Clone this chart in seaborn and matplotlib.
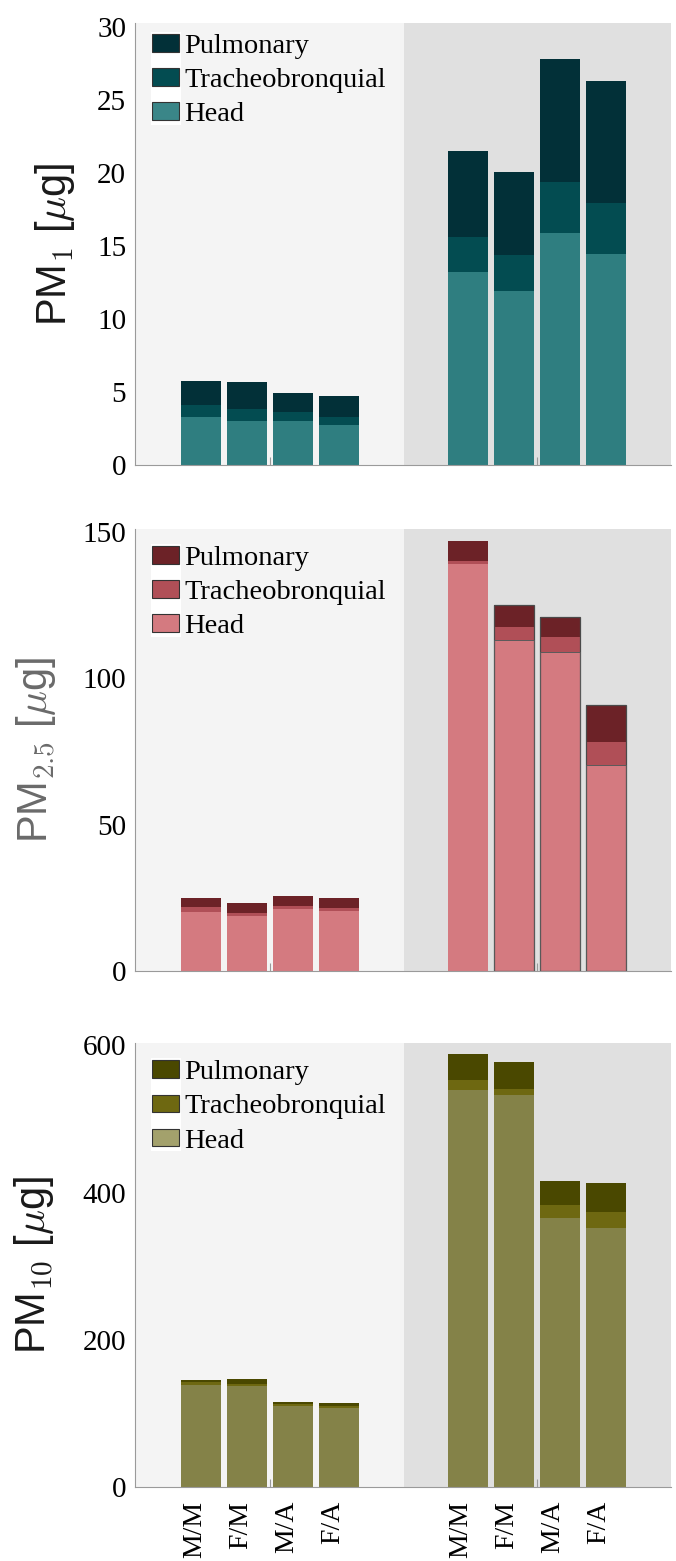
import numpy as np
import pandas as pd
import matplotlib
matplotlib.use("Agg")
import matplotlib.pyplot as plt
import matplotlib.transforms as mtransforms
from matplotlib.patches import Patch, Rectangle
import seaborn as sns

# ---------------- data ----------------
profiles = ["M/M", "F/M", "M/A", "F/A"]
groups = ["G1", "G2"]
layers = ["Pulmonary", "Tracheobronquial", "Head"]

pm1_head = [3.30, 3.03, 3.03, 2.75, 13.20, 11.95, 15.90, 14.45]
pm1_tb = [0.80, 0.82, 0.57, 0.55, 2.45, 2.45, 3.50, 3.50]
pm1_pulm = [1.65, 1.85, 1.35, 1.45, 5.85, 5.65, 8.40, 8.35]

pm25_head = [20.0, 18.9, 21.2, 20.4, 139.1, 113.1, 109.1, 70.2]
pm25_tb = [1.8, 0.9, 1.1, 1.1, 0.9, 4.5, 4.8, 7.9]
pm25_pulm = [3.2, 3.3, 3.2, 3.4, 6.7, 7.3, 6.9, 12.7]

pm10_head = [138.9, 136.6, 109.4, 106.7, 539.8, 532.4, 365.5, 352.2]
pm10_tb = [3.6, 3.2, 3.7, 3.6, 12.8, 8.7, 17.0, 20.7]
pm10_pulm = [3.2, 6.9, 2.8, 3.7, 35.0, 36.8, 33.6, 39.5]

y_labels = [r"PM$_{\mathsf{1}}$ [$\mu$g]", r"PM$_{\mathsf{2.5}}$ [$\mu$g]",
            r"PM$_{\mathsf{10}}$ [$\mu$g]"]
y_ticks = [[0, 5, 10, 15, 20, 25, 30], [0, 50, 100, 150], [0, 200, 400, 600]]

# ---------------- style ----------------
sns.set_theme(style="white")
plt.rcParams["font.family"] = ["Liberation Serif", "DejaVu Serif"]
plt.rcParams["mathtext.fontset"] = "cm"
plt.rcParams["text.color"] = "black"
plt.rcParams["xtick.color"] = "black"
plt.rcParams["ytick.color"] = "black"

colors = [
    {"Pulmonary": "#023038", "Tracheobronquial": "#034c51", "Head": "#2f7e80"},
    {"Pulmonary": "#6c2227", "Tracheobronquial": "#b04f57", "Head": "#d47a80"},
    {"Pulmonary": "#4a4800", "Tracheobronquial": "#6e6811", "Head": "#848248"},
]
legend_head = ["#3a8688", "#d47a80", "#a3a16c"]
label_colors = ["#1a1a1a", "#6a6a6a", "#1a1a1a"]

datasets = [
    (pm1_head, pm1_tb, pm1_pulm),
    (pm25_head, pm25_tb, pm25_pulm),
    (pm10_head, pm10_tb, pm10_pulm),
]
ylims = [(0, 30.3), (0, 151), (0, 603)]
ax_rects = [
    [0.199, 0.7021, 0.793, 0.2832],
    [0.199, 0.3780, 0.793, 0.2832],
    [0.199, 0.0474, 0.793, 0.2844],
]
label_x = [-0.108, -0.142, -0.146]
legend_y = [0.975, 0.961, 0.961]

# x layout: 4 bars per group, gap between groups
gap = 2.8
xpos = [i for i in range(4)] + [3 + gap + i for i in range(4)]
split = (3 + 3 + gap) / 2.0
xmin, xmax = -1.45, 3 + gap + 3 + 1.40

fig = plt.figure(figsize=(6.76, 15.61), dpi=100)

for k, (head, tb, pulm) in enumerate(datasets):
    ax = fig.add_axes(ax_rects[k])
    df = pd.DataFrame({
        "x": xpos,
        "group": [g for g in groups for _ in profiles],
        "profile": profiles * 2,
        "Head": head,
        "Tracheobronquial": tb,
        "Pulmonary": pulm,
    })
    df["c_head"] = df["Head"]
    df["c_tb"] = df["Head"] + df["Tracheobronquial"]
    df["c_total"] = df["c_tb"] + df["Pulmonary"]

    ax.axvspan(xmin, split, color="#f4f4f4", zorder=0, lw=0)
    ax.axvspan(split, xmax, color="#e0e0e0", zorder=0, lw=0)

    for col, layer in [("c_total", "Pulmonary"), ("c_tb", "Tracheobronquial"),
                       ("c_head", "Head")]:
        sns.barplot(data=df, x="x", y=col, native_scale=True, width=0.87,
                    color=colors[k][layer], saturation=1, errorbar=None,
                    linewidth=0, ax=ax, zorder=2)

    if k == 1:
        # the reference outlines the last three bars of the second group
        sub = df.iloc[5:8]
        sns.barplot(data=sub, x="x", y="c_total", native_scale=True, width=0.87,
                    fill=False, edgecolor="#4a4a4a", linewidth=0.9,
                    errorbar=None, ax=ax, zorder=3)
        sns.barplot(data=sub, x="x", y="c_head", native_scale=True, width=0.87,
                    fill=False, edgecolor="#5a5a5a", linewidth=0.7,
                    errorbar=None, ax=ax, zorder=3)

    ax.set_xlim(xmin, xmax)
    ax.set_ylim(*ylims[k])
    ax.set_yticks(y_ticks[k])
    ax.set_yticklabels([str(t) for t in y_ticks[k]], fontsize=21)
    ax.tick_params(axis="y", length=0, pad=6)
    ax.set_xticks([1.5, 3 + gap + 1.5], minor=True)
    ax.tick_params(axis="x", which="minor", direction="in", length=6,
                   width=0.8, color="#9a9a9a", bottom=True)
    if k == 2:
        ax.set_xticks(xpos)
        ax.set_xticklabels(profiles * 2, rotation=90, fontsize=20)
        ax.tick_params(axis="x", which="major", length=0, pad=10)
        off = mtransforms.ScaledTranslation(-7 / 100, 0, fig.dpi_scale_trans)
        for lab in ax.get_xticklabels():
            lab.set_transform(lab.get_transform() + off)
    else:
        ax.set_xticks([])
    ax.set_xlabel("")
    ax.set_ylabel(y_labels[k], fontsize=30, color=label_colors[k],
                  family=["Liberation Sans", "DejaVu Sans"])
    ax.yaxis.set_label_coords(label_x[k], 0.5)

    for s in ["top", "right"]:
        ax.spines[s].set_visible(False)
    for s in ["left", "bottom"]:
        ax.spines[s].set_color("#9a9a9a")
        ax.spines[s].set_linewidth(0.8)
    ax.set_facecolor("white")

    # white backing strip behind legend handles (as in the reference)
    ax.add_patch(Rectangle((0.031, legend_y[k] - 0.205), 0.056, 0.21,
                           transform=ax.transAxes, facecolor="white",
                           edgecolor="none", zorder=1))

    handles = [
        Patch(facecolor=colors[k]["Pulmonary"], edgecolor="#333333", linewidth=0.8),
        Patch(facecolor=colors[k]["Tracheobronquial"], edgecolor="#333333", linewidth=0.8),
        Patch(facecolor=legend_head[k], edgecolor="#333333", linewidth=0.8),
    ]
    ax.legend(handles, layers, loc="upper left", bbox_to_anchor=(0.033, legend_y[k]),
              frameon=False, fontsize=20.5, handlelength=0.95, handleheight=0.58,
              handletextpad=0.18, labelspacing=0.32, borderaxespad=0, borderpad=0)

fig.savefig("out.png", dpi=100, facecolor="white")
